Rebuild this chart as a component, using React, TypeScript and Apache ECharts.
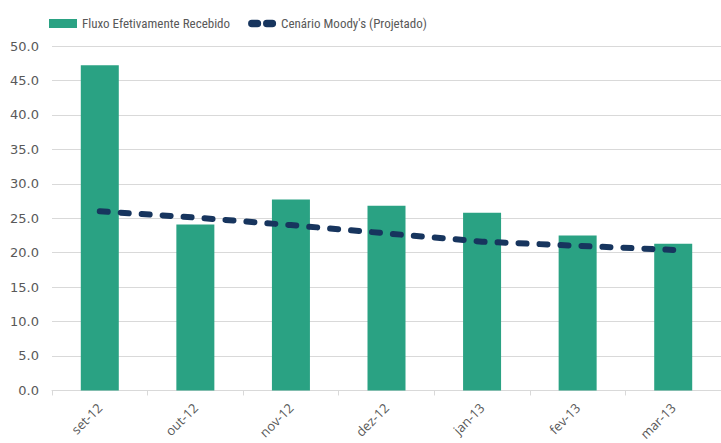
import React, { useEffect, useRef } from "react";
import * as echarts from "echarts";

const categories = ["set-12", "out-12", "nov-12", "dez-12", "jan-13", "fev-13", "mar-13"];
const recebido = [47.2, 24.1, 27.7, 26.8, 25.8, 22.5, 21.3];
const moodys = [26.0, 25.1, 24.0, 22.8, 21.6, 21.0, 20.4];
const seriesNames = ["Fluxo Efetivamente Recebido", "Cenário Moody's (Projetado)"];

const dashIcon =
  "path://M4,0 H10 A4,4 0 0 1 10,8 H4 A4,4 0 0 1 4,0 Z M20,0 H26 A4,4 0 0 1 26,8 H20 A4,4 0 0 1 20,0 Z";

export default function App() {
  const ref = useRef<HTMLDivElement>(null);
  useEffect(() => {
    if (!ref.current) return;
    const chart = echarts.init(ref.current, null, { renderer: "svg" });
    chart.setOption({
      animation: false,
      backgroundColor: "#ffffff",
      legend: {
        left: 44,
        top: 12,
        itemWidth: 28,
        itemHeight: 9,
        itemGap: 18,
        textStyle: { fontFamily: "Liberation Sans Narrow, Roboto Condensed, Roboto, sans-serif", fontSize: 13, color: "#595959" },
        data: [
          { name: seriesNames[0], icon: "rect" },
          { name: seriesNames[1], icon: dashIcon, itemStyle: { color: "#17355e" } },
        ],
      },
      grid: { left: 52, top: 46, width: 673, height: 345, containLabel: false },
      xAxis: {
        type: "category",
        data: categories,
        boundaryGap: true,
        axisLine: { lineStyle: { color: "#d9d9d9", width: 1 } },
        axisTick: { show: true, length: 5, lineStyle: { color: "#d9d9d9" } },
        axisLabel: {
          rotate: 45,
          interval: 0,
          margin: 15,
          fontFamily: "Open Sans, sans-serif",
          fontSize: 13,
          color: "#595959",
        },
      },
      yAxis: {
        type: "value",
        min: 0,
        max: 50,
        interval: 5,
        axisLine: { show: false },
        axisTick: { show: false },
        splitLine: { lineStyle: { color: "#d9d9d9", width: 1 } },
        axisLabel: {
          margin: 13,
          fontFamily: "DejaVu Sans, sans-serif",
          fontSize: 13,
          color: "#595959",
          formatter: (v: number) => v.toFixed(1),
        },
      },
      series: [
        {
          name: seriesNames[0],
          type: "bar",
          data: recebido,
          barWidth: 38,
          itemStyle: { color: "#2aa283" },
        },
        {
          name: seriesNames[1],
          type: "line",
          data: moodys,
          symbol: "none",
          lineStyle: { color: "#17355e", width: 6, type: [8, 13], cap: "round" },
          itemStyle: { color: "#17355e" },
          z: 3,
        },
      ],
    });
    return () => chart.dispose();
  }, []);
  return (
    <div
      ref={ref}
      style={{ position: "fixed", left: 0, top: 0, width: 721, height: 443, overflow: "hidden" }}
    />
  );
}
